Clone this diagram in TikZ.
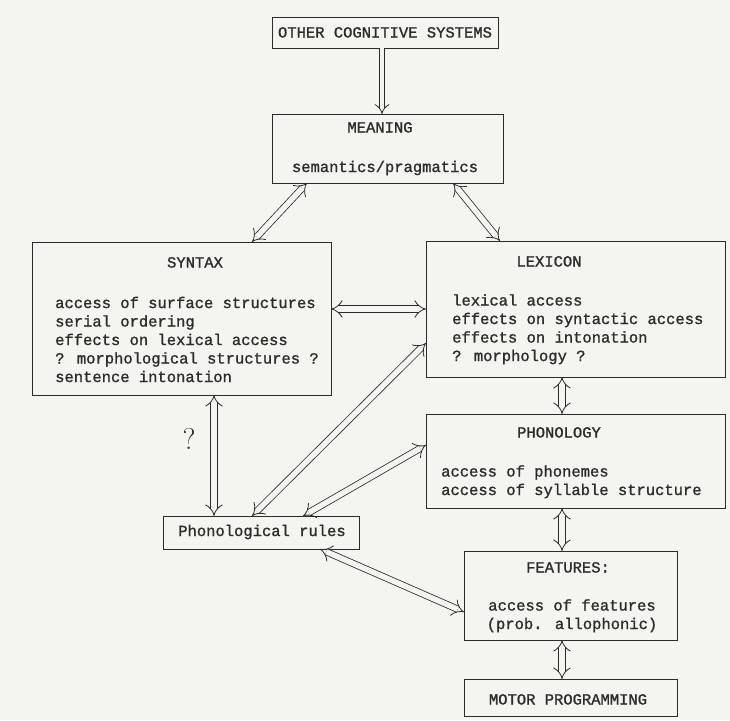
\documentclass[tikz,border=0pt]{standalone}
\usepackage{fontspec}
\newfontfamily\twfont[FakeBold=1.2]{Liberation Mono}
\usetikzlibrary{arrows.meta}
\definecolor{ink}{HTML}{2C2C2C}
\definecolor{paper}{HTML}{F4F4F1}
\begin{document}
\begin{tikzpicture}[x=1pt,y=-1pt,
  box/.style={draw=ink, line width=0.9pt, inner sep=0pt, outer sep=0pt, anchor=north west},
  txt/.style={text=ink, font=\twfont\fontsize{15.5}{18.5}\selectfont, inner sep=0pt, anchor=base},
  body/.style={txt, align=left, anchor=base west},
  tip/.tip={Implies[length=9pt, width=17pt]},
  smalltip/.tip={Implies[length=9pt, width=13pt]},
  link/.style={draw=ink, line width=0.8pt, double=paper, double distance=5.5pt, tip-tip},
  oneway/.style={draw=ink, line width=0.8pt, double=paper, double distance=4.5pt, -smalltip},
]
% page
\path[fill=paper] (0,0) rectangle (730,720);

% boxes
\node[box, minimum width=226pt, minimum height=31pt]  (oth)   at (272,17)  {};
\node[box, minimum width=231pt, minimum height=69pt]  (mean)  at (272,114) {};
\node[box, minimum width=299pt, minimum height=153pt] (syn)   at (32,242)  {};
\node[box, minimum width=299pt, minimum height=136pt] (lex)   at (426,241) {};
\node[box, minimum width=299pt, minimum height=94pt]  (phon)  at (426,414) {};
\node[box, minimum width=213pt, minimum height=89pt]  (feat)  at (464,551) {};
\node[box, minimum width=213pt, minimum height=37pt]  (mot)   at (464,679) {};
\node[box, minimum width=196pt, minimum height=33pt]  (rules) at (163,516) {};

% texts (multi-line bodies are placed by the baseline of their last line)
\node[txt] (othT)  at (385,37.5)  {OTHER COGNITIVE SYSTEMS};
\node[txt] (meanH) at (380,132.5) {MEANING};
\node[txt] (meanB) at (385,172)   {semantics/pragmatics};
\node[txt] (synH)  at (195,267.5) {SYNTAX};
\node[body] (synB) at (55,382) {access of surface structures\\serial ordering\\effects on lexical access\\? morphological structures ?\\sentence intonation};
\node[txt] (lexH)  at (549,266.5) {LEXICON};
\node[body] (lexB) at (452,361) {lexical access\\effects on syntactic access\\effects on intonation\\? morphology ?};
\node[txt] (phonH) at (559,437.5) {PHONOLOGY};
\node[body] (phonB) at (441,495) {access of phonemes\\access of syllable structure};
\node[txt] (featH) at (568,572.5) {FEATURES:};
\node[txt, align=center] (featB) at (572,629) {access of features\\(prob. allophonic)};
\node[txt] (motT)  at (568,704.5) {MOTOR PROGRAMMING};
\node[txt] (rulT)  at (262,536)   {Phonological rules};
\node[text=ink, font=\rmfamily\fontsize{30}{30}\selectfont, inner sep=0pt, anchor=base] (qm) at (189,449) {?};

% connectors
\coordinate (c1) at ([xshift=-3pt]oth.south);
\draw[oneway] (c1) -- (c1 |- mean.north);
\draw[link] ([xshift=35pt]mean.south west) -- ([xshift=220pt]syn.north west);
\draw[link] ([xshift=181pt]mean.south west) -- ([xshift=74pt]lex.north west);
\draw[link] (lex.west) -- (lex.west -| syn.east);
\coordinate (c5) at ([xshift=182pt]syn.south west);
\draw[link] (c5) -- (c5 |- rules.north);
\draw[link] ([yshift=-34pt]lex.west) -- ([xshift=89pt]rules.north west);
\draw[link] ([yshift=16pt]phon.west) -- ([xshift=140pt]rules.north west);
\coordinate (c8) at ([xshift=136pt]lex.south west);
\draw[link] (c8) -- (c8 |- phon.north);
\coordinate (c9) at ([xshift=136pt]phon.south west);
\draw[link] (c9) -- (c9 |- feat.north);
\draw[link] ([xshift=157pt]rules.south west) -- ([yshift=-16.5pt]feat.west);
\coordinate (c11) at ([xshift=98pt]feat.south west);
\draw[link] (c11) -- (c11 |- mot.north);
\end{tikzpicture}
\end{document}
